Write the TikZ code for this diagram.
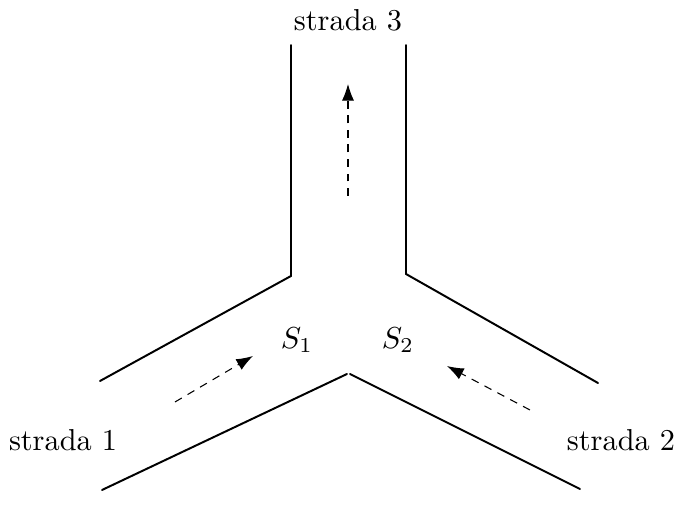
\documentclass[tikz,border=0pt]{standalone}
\usetikzlibrary{arrows.meta}
\tikzset{
  road/.style={line width=0.65pt, line cap=round},
  flow/.style={line width=0.35pt, dash pattern=on 2.6pt off 2.2pt, -{Latex[length=5.5pt,width=4pt]}},
  lbl/.style={inner sep=0pt, font=\fontsize{10}{12}\selectfont}
}
\begin{document}
\begin{tikzpicture}[x=0.33pt,y=-0.33pt]
\useasboundingbox (0,0) rectangle (677,509);
% road corners
\coordinate (lt) at (291,45);
\coordinate (lc) at (291,276);
\coordinate (le) at (100,381);
\coordinate (rt) at (406,45);
\coordinate (rc) at (406,274);
\coordinate (re) at (598,383);
\coordinate (bl) at (102,490);
\coordinate (bm) at (347,374);
\coordinate (bmr) at (350,374);
\coordinate (br) at (580,489);
\draw[road] (lt) -- (lc) -- (le);
\draw[road] (rt) -- (rc) -- (re);
\draw[road] (bl) -- (bm);
\draw[road] (bmr) -- (br);
% flows
\coordinate (a1) at (175,402);
\coordinate (a2) at (253,356);
\coordinate (b1) at (530,410);
\coordinate (b2) at (447,366);
\coordinate (c1) at (348,196);
\coordinate (c2) at (348,84);
\draw[flow] (a1) -- (a2);
\draw[flow] (b1) -- (b2);
\draw[flow] (c1) -- (c2);
% labels
\node[lbl] (s3) at (348,20) {strada 3};
\node[lbl] (s1) at (63,440) {strada 1};
\node[lbl] (s2) at (621,440) {strada 2};
\node[lbl] (S1) at (297,340) {$S_1$};
\node[lbl] (S2) at (398,340) {$S_2$};
\end{tikzpicture}
\end{document}
